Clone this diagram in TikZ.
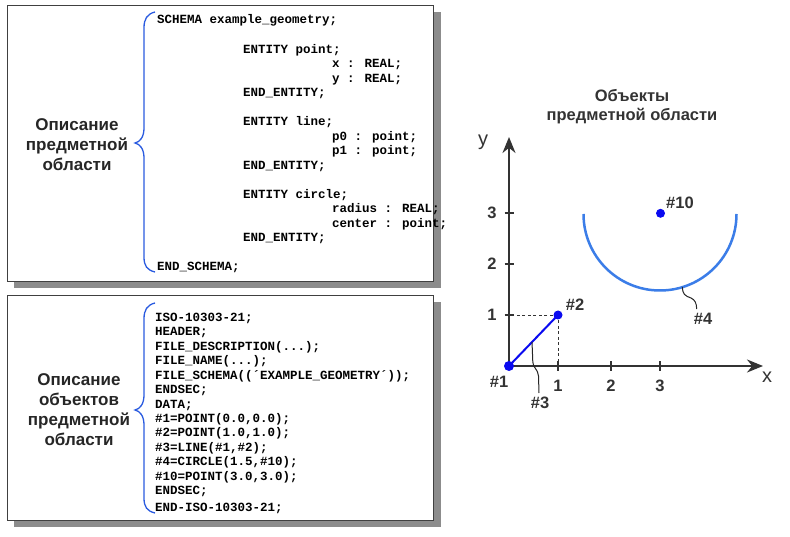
\documentclass[tikz,border=0pt]{standalone}
\usepackage{fontspec}
\setmainfont{Liberation Sans}
\newfontfamily\codefont{Liberation Mono}
\usetikzlibrary{calc,arrows.meta}
\definecolor{txtgray}{HTML}{262626}
\definecolor{axgray}{HTML}{333333}
\definecolor{shadowgray}{HTML}{8C8C8C}
\definecolor{boxline}{HTML}{404040}
\definecolor{bracecol}{HTML}{2A5BE0}
\definecolor{dotblue}{HTML}{0A0AF0}
\definecolor{arcblue}{HTML}{3B7DE8}
\begin{document}
\begin{tikzpicture}[x=1pt,y=-1pt,
  lbl/.style={font=\bfseries\fontsize{17}{20}\selectfont, text=txtgray, align=center, inner sep=0pt},
  code/.style={font=\codefont\bfseries\fontsize{12.5}{14}\selectfont, text=black, anchor=base west, inner sep=0pt},
  ticklbl/.style={font=\bfseries\fontsize{16.5}{20}\selectfont, text=axgray, inner sep=0pt},
  axlbl/.style={font=\fontsize{20}{22}\selectfont, text=axgray, inner sep=0pt},
  boxframe/.style={draw=boxline, line width=0.9pt, fill=white},
  shadowbox/.style={fill=shadowgray},
  bracepath/.style={draw=bracecol, line width=1.3pt},
  axis/.style={draw=axgray, line width=2pt, -{Stealth[length=16pt,width=13pt]}},
  tickmark/.style={draw=axgray, line width=1.6pt},
  helper/.style={draw=axgray, line width=0.8pt, dash pattern=on 3pt off 2.5pt},
  dot/.style={circle, fill=dotblue, inner sep=0pt, minimum size=9pt},
  leader/.style={draw=txtgray, line width=1pt}]
\useasboundingbox (0,0) rectangle (790,537);
\fill[white] (0,0) rectangle (790,537);

% ---------- top box ----------
\fill[shadowbox] (14,12) rectangle (441,288);
\draw[boxframe] (7,5) rectangle (433,281);
\node[lbl] (lab1) at (77,145) {Описание\\предметной\\области};
\draw[bracepath] (155,12) .. controls (147,14) and (144,19) .. (144,28) -- (144,128)
  .. controls (144,137) and (140,142) .. (135,143) .. controls (140,144) and (144,149) .. (144,158)
  -- (144,257) .. controls (144,266) and (147,270) .. (155,272);
\node[code] (t1) at (157,24) {SCHEMA example\_geometry;};
\node[code] (t2) at (243,53.5) {ENTITY point;};
\node[code] (t3) at (332,68) {x : REAL;};
\node[code] (t4) at (332,82.5) {y : REAL;};
\node[code] (t5) at (243,97) {END\_ENTITY;};
\node[code] (t6) at (243,126) {ENTITY line;};
\node[code] (t7) at (332,140.5) {p0 : point;};
\node[code] (t8) at (332,155) {p1 : point;};
\node[code] (t9) at (243,169.5) {END\_ENTITY;};
\node[code] (t10) at (243,198.5) {ENTITY circle;};
\node[code] (t11) at (332,213) {radius : REAL;};
\node[code] (t12) at (332,227.5) {center : point;};
\node[code] (t13) at (243,242) {END\_ENTITY;};
\node[code] (t14) at (157,271) {END\_SCHEMA;};

% ---------- bottom box ----------
\fill[shadowbox] (14,302) rectangle (441,527);
\draw[boxframe] (7,295) rectangle (433,520);
\node[lbl] (lab2) at (79,410) {Описание\\объектов\\предметной\\области};
\draw[bracepath] (155,303) .. controls (147,305) and (144,310) .. (144,319) -- (144,395)
  .. controls (144,404) and (140,409) .. (135,410) .. controls (140,411) and (144,416) .. (144,425)
  -- (144,498) .. controls (144,507) and (147,511) .. (155,513);
\node[code] (b1) at (155,321.3) {ISO-10303-21;};
\node[code] (b2) at (155,335.75) {HEADER;};
\node[code] (b3) at (155,350.2) {FILE\_DESCRIPTION(...);};
\node[code] (b4) at (155,364.65) {FILE\_NAME(...);};
\node[code] (b5) at (155,379.1) {FILE\_SCHEMA((´EXAMPLE\_GEOMETRY´));};
\node[code] (b6) at (155,393.55) {ENDSEC;};
\node[code] (b7) at (155,408) {DATA;};
\node[code] (b8) at (155,422.45) {\#1=POINT(0.0,0.0);};
\node[code] (b9) at (155,436.9) {\#2=POINT(1.0,1.0);};
\node[code] (b10) at (155,451.35) {\#3=LINE(\#1,\#2);};
\node[code] (b11) at (155,465.8) {\#4=CIRCLE(1.5,\#10);};
\node[code] (b12) at (155,480.25) {\#10=POINT(3.0,3.0);};
\node[code] (b13) at (155,494.7) {ENDSEC;};
\node[code] (b14) at (155,511.3) {END-ISO-10303-21;};

% ---------- plot ----------
\node[font=\bfseries\fontsize{16.5}{19}\selectfont, text=axgray, align=center, inner sep=0pt] (title) at (632,107) {Объекты\\предметной области};
\coordinate (O) at (509,366);
\coordinate (xend) at (763,366);
\coordinate (yend) at (509,137);
\draw[axis] (O) -- (xend);
\draw[axis] (O) -- (yend);
\node[axlbl] (xl) at (767,377) {x};
\node[axlbl] (yl) at (483,142) {y};
\foreach \i/\xx/\yy in {1/558/315, 2/611/264, 3/660/213}{
  \draw[tickmark] (\xx,361.5) -- (\xx,370.5);
  \draw[tickmark] (504.5,\yy) -- (513.5,\yy);
  \node[ticklbl] at (\xx,386) {\i};
  \node[ticklbl] at (492,\yy) {\i};
}
\coordinate (p2c) at (558,315);
\coordinate (p2y) at (509,315);
\coordinate (p2x) at (558,366);
\draw[helper] (p2c) -- (p2y);
\draw[helper] (p2c) -- (p2x);
% circle #4
\draw[arcblue, line width=2.5pt] (583.5,214) arc[start angle=180, end angle=360, radius=76.5pt];
% line #3
\draw[dotblue, line width=2pt] (O) -- (p2c);
\node[dot, minimum size=10pt] (n1) at (O) {};
\node[dot] (n2) at (p2c) {};
\node[dot] (n10) at (660.5,213.3) {};
% labels
\node[ticklbl] (l1) at (499,382) {\#1};
\node[ticklbl] (l2) at (575,305) {\#2};
\node[ticklbl] (l10) at (680,202.5) {\#10};
\node[ticklbl] (l3) at (540,403) {\#3};
\node[ticklbl] (l4) at (703,319) {\#4};
% leaders
\coordinate (a3) at ($(O)!0.47!(p2c)$);
\coordinate (e3) at (539,393);
\draw[leader] (a3) -- (532.8,362) .. controls (533,368) and (538,369) .. (538.5,376) -- (e3);
\coordinate (a4) at (682.3,287);
\coordinate (e4) at (696.7,309);
\draw[leader] (a4) .. controls (682.5,294) and (685,296) .. (691,298) .. controls (695,300) and (696.5,303) .. (e4);
\end{tikzpicture}
\end{document}
